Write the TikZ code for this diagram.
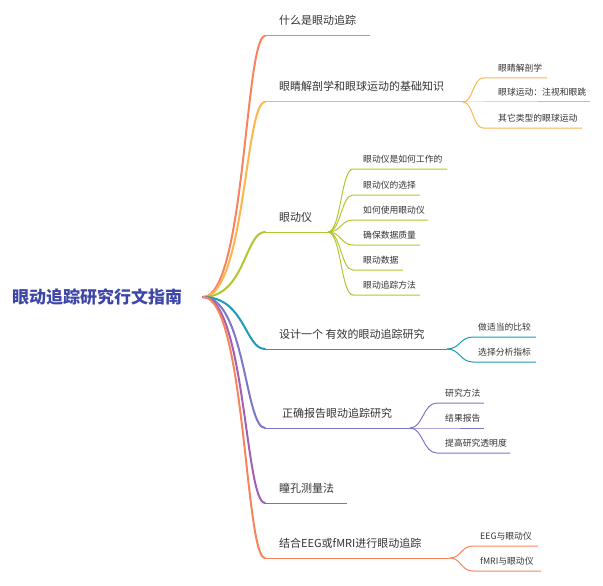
\documentclass[tikz,border=0pt]{standalone}
\usepackage{fontspec}
\setmainfont{Noto Sans CJK SC}
\usetikzlibrary{calc}
\definecolor{cA}{HTML}{F7845E}
\definecolor{cB}{HTML}{FDB54F}
\definecolor{cC}{HTML}{B5C530}
\definecolor{cD}{HTML}{1E9BB5}
\definecolor{cE}{HTML}{7C77C6}
\definecolor{cF}{HTML}{A160B3}
\definecolor{rootblue}{HTML}{3D46A8}
\definecolor{txt}{HTML}{333333}

\begin{document}
\begin{tikzpicture}[x=1pt,y=-1pt,
    root/.style={font=\fontsize{17}{17}\selectfont\bfseries,text=rootblue,inner sep=0pt,anchor=base west},
    main/.style={font=\fontsize{11}{11}\selectfont,text=txt,inner sep=0pt,anchor=base west},
    sub/.style={font=\fontsize{8.8}{9}\selectfont,text=txt,inner sep=0pt,anchor=base west},
    trunk/.style={line width=2pt,line cap=round},
    twig/.style={line width=1pt}]
        \useasboundingbox (0,0) rectangle (603,586);
        \node[root] (root) at (12,303.5) {眼动追踪研究行文指南};
        \coordinate (r) at (203,297);

        % branch 1
        \coordinate (b1) at (265,36);
        \coordinate (b1e) at (370,36);
        \draw[trunk,cA] (r) .. controls (245,297) and (245,36) .. (b1);
        \draw[twig,cA] (b1) -- (b1e);
        \node[main] (t1) at (279,25) {什么是眼动追踪};

        % branch 2
        \coordinate (b2) at (265,102);
        \coordinate (b2s) at (463,102);
        \draw[trunk,cB] (r) .. controls (245,297) and (245,102) .. (b2);
        \draw[twig,cB] (b2) -- (b2s);
        \node[main] (t2) at (279,91) {眼睛解剖学和眼球运动的基础知识};
        \foreach \n/\y/\e/\t in {1/78/547/眼睛解剖学,2/102/590/眼球运动：注视和眼跳,3/128/582/其它类型的眼球运动}
        {
        \coordinate (b2c\n) at (483,\y);
        \coordinate (b2e\n) at (\e,\y);
        \draw[twig,cB] (b2s) .. controls (473,102) and (473,\y) .. (b2c\n) -- (b2e\n);
        \node[sub] (t2c\n) at (498,\y-6.7) {\t};
        }

        % branch 3
        \coordinate (b3) at (265,232);
        \coordinate (b3s) at (328,232);
        \draw[trunk,cC] (r) .. controls (245,297) and (245,232) .. (b3);
        \draw[twig,cC] (b3) -- (b3s);
        \node[main] (t3) at (279,221) {眼动仪};
        \foreach \n/\y/\e/\t in {1/169/447/眼动仪是如何工作的,2/195/420/眼动仪的选择,3/220/428/如何使用眼动仪,4/245/420/确保数据质量,5/270/403/眼动数据,6/295/420/眼动追踪方法}
        {
        \coordinate (b3c\n) at (353,\y);
        \coordinate (b3e\n) at (\e,\y);
        \draw[twig,cC] (b3s) .. controls (341,232) and (341,\y) .. (b3c\n) -- (b3e\n);
        \node[sub] (t3c\n) at (363,\y-6.7) {\t};
        }

        % branch 4
        \coordinate (b4) at (265,349);
        \coordinate (b4s) at (447,349);
        \draw[trunk,cD] (r) .. controls (245,297) and (245,349) .. (b4);
        \draw[twig,cD] (b4) -- (b4s);
        \node[main] (t4) at (279,338) {设计一个 有效的眼动追踪研究};
        \foreach \n/\y/\e/\t in {1/337/536/做适当的比较,2/362/536/选择分析指标}
        {
        \coordinate (b4c\n) at (473,\y);
        \coordinate (b4e\n) at (\e,\y);
        \draw[twig,cD] (b4s) .. controls (460,349) and (460,\y) .. (b4c\n) -- (b4e\n);
        \node[sub] (t4c\n) at (478,\y-6.7) {\t};
        }

        % branch 5
        \coordinate (b5) at (265,428);
        \coordinate (b5s) at (410,428);
        \draw[trunk,cE] (r) .. controls (245,297) and (245,428) .. (b5);
        \draw[twig,cE] (b5) -- (b5s);
        \node[main] (t5) at (282,417) {正确报告眼动追踪研究};
        \foreach \n/\y/\e/\t in {1/403/484/研究方法,2/428/484/结果报告,3/453/510/提高研究透明度}
        {
        \coordinate (b5c\n) at (437,\y);
        \coordinate (b5e\n) at (\e,\y);
        \draw[twig,cE] (b5s) .. controls (423,428) and (423,\y) .. (b5c\n) -- (b5e\n);
        \node[sub] (t5c\n) at (445,\y-6.7) {\t};
        }

        % branch 6
        \coordinate (b6) at (265,503);
        \coordinate (b6e) at (347,503);
        \draw[trunk,cF] (r) .. controls (245,297) and (245,503) .. (b6);
        \draw[twig,cF] (b6) -- (b6e);
        \node[main] (t6) at (279,492) {瞳孔测量法};

        % branch 7
        \coordinate (b7) at (265,558);
        \coordinate (b7s) at (450,558);
        \draw[trunk,cA] (r) .. controls (245,297) and (245,558) .. (b7);
        \draw[twig,cA] (b7) -- (b7s);
        \node[main] (t7) at (279,547) {结合EEG或fMRI进行眼动追踪};
        \foreach \n/\y/\e/\t in {1/546/538/EEG与眼动仪,2/571/541/fMRI与眼动仪}
        {
        \coordinate (b7c\n) at (473,\y);
        \coordinate (b7e\n) at (\e,\y);
        \draw[twig,cA] (b7s) .. controls (461,558) and (461,\y) .. (b7c\n) -- (b7e\n);
        \node[sub] (t7c\n) at (480,\y-6.7) {\t};
        }
    \end{tikzpicture}
\end{document}
